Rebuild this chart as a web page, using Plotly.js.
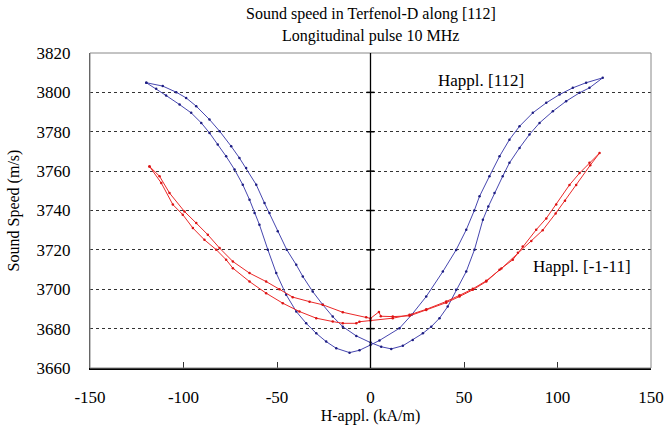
<!DOCTYPE html>
<html>
<head>
<meta charset="utf-8">
<script src="https://cdn.plot.ly/plotly-3.0.1.min.js"></script>
<style>html,body{margin:0;padding:0;background:#fff;}#chart{width:664px;height:426px;}</style>
</head>
<body>
<div id="chart"></div>
<script>
// Blue loop: H applied along [112]
const blueX = [-119.9,-114.6,-109.3,-102.1,-95.9,-90.5,-86.1,-81.7,-77.2,-72.7,-68.3,-64.7,-62.0,-59.4,-54.9,-50.4,-45.1,-39.7,-34.4,-29.0,-23.7,-18.3,-11.2,-5.9,0,4.8,15.5,22,29.8,38.7,45.8,51.2,55.5,58.3,63.6,69.0,74.3,79.7,86.8,94.0,101.1,108.2,115.3,124.2,
  117.1,111.8,104.6,97.5,90.4,85.0,79.7,74.3,70.7,66.3,63.0,60.1,55.6,51.2,45.8,41.3,36.9,32.5,28.0,22.6,17.3,11.1,5.7,0,-7.6,-14.8,-20.2,-25.5,-30.9,-36.2,-39.7,-44.8,-49.6,-54.0,-56.7,-61.1,-66.5,-70.1,-74.5,-80.7,-86.1,-93.2,-98.6,-103.9,-111.1,-119.9];
const blueY = [3804.9,3801.8,3798.4,3793.8,3789.6,3784.5,3779.4,3773.5,3767.5,3760.8,3753.1,3745.5,3738.7,3732.8,3720.1,3708.2,3697.2,3688.7,3682.7,3677.6,3673.4,3670.0,3667.8,3669.0,3671.7,3674.0,3680.2,3687.0,3696.3,3709.0,3720.0,3730.2,3740.0,3747.2,3757.4,3767.5,3776.0,3782.8,3789.6,3794.7,3798.9,3802.3,3804.9,3807.4,
  3802.3,3799.8,3795.5,3790.4,3784.5,3778.6,3771.8,3764.2,3757.4,3748.9,3742.0,3735.3,3720.1,3709.0,3699.7,3691.2,3685.3,3681.0,3677.6,3674.2,3671.3,3669.7,3670.8,3672.9,3676.3,3681.0,3686.1,3692.1,3698.8,3706.5,3712.4,3720.1,3729.4,3738.7,3743.8,3753.1,3761.6,3766.7,3772.6,3780.3,3786.2,3793.0,3797.2,3800.1,3803.2,3804.9];

// Red loop: H applied along [-1-11]
const redX = [-118.2,-112.8,-107.5,-99.5,-93.2,-87.0,-80.7,-73.6,-64.7,-55.8,-48.7,-41.6,-32.6,-25.5,-14.8,-2.3,0,4.5,5.5,11.9,20.9,29.8,40.5,47.6,54.7,61.9,69.0,76.1,81.4,88.6,94.0,99.3,106.4,111.8,117.1,122.5,
  117.5,110.0,104.0,99.0,92.1,86.0,78.8,70.0,61.9,54.7,47.6,40.5,29.8,20.9,11.9,0,-5.9,-7.6,-14.8,-20.2,-29.0,-38.0,-46.9,-55.8,-64.7,-73.6,-77.2,-82.5,-88.8,-95.0,-100.4,-105.7,-111.9,-118.2];
const redY = [3762.4,3757.4,3748.9,3739.5,3733.6,3727.7,3720.9,3714.1,3708.2,3703.9,3700.0,3696.0,3693.7,3692.1,3688.3,3685.8,3685.2,3688.5,3686.3,3686.1,3686.5,3689.5,3693.2,3696.3,3699.7,3703.9,3709.9,3715.0,3721.7,3730.2,3736.0,3743.0,3753.0,3759.0,3764.2,3769.2,
  3763.0,3753.0,3745.0,3738.5,3730.0,3724.5,3718.5,3710.5,3704.3,3700.2,3696.9,3693.8,3689.8,3687.0,3685.3,3684.1,3683.5,3682.7,3682.7,3683.6,3685.3,3688.7,3692.9,3698.0,3703.9,3710.7,3715.0,3720.1,3725.1,3731.1,3737.9,3743.0,3754.0,3762.4];

const xTicks = [-150,-100,-50,0,50,100,150];
const yTicks = [3660,3680,3700,3720,3740,3760,3780,3800,3820];
const titleLines = ['Sound speed in Terfenol-D along [112]', 'Longitudinal pulse 10 MHz'];
const xTitle = 'H-appl. (kA/m)';
const yTitle = 'Sound Speed (m/s)';
const labelBlue = 'Happl. [112]';
const labelRed = 'Happl. [-1-11]';

const serif = 'Liberation Serif, Times New Roman, serif';

const traces = [
  {x: blueX, y: blueY, mode: 'lines+markers', line: {color: 'rgb(70,70,175)', width: 1},
   marker: {color: 'rgb(30,30,130)', size: 2.5}, hoverinfo: 'skip'},
  {x: redX, y: redY, mode: 'lines+markers', line: {color: 'rgb(235,40,40)', width: 1},
   marker: {color: 'rgb(220,20,20)', size: 2.5}, hoverinfo: 'skip'}
];

const shapes = [
  {type: 'rect', xref: 'paper', yref: 'paper', x0: 0, x1: 1, y0: 0, y1: 1, line: {color: '#888', width: 1}},
  {type: 'line', xref: 'x', yref: 'paper', x0: 0, x1: 0, y0: 0, y1: 1, line: {color: '#000', width: 1.3}}
];
yTicks.slice(1, -1).forEach(v => {
  shapes.push({type: 'line', xref: 'x', yref: 'y', xsizemode: 'pixel', xanchor: 0, x0: -4, x1: 4, y0: v, y1: v,
    line: {color: '#000', width: 1.5}});
});

const layout = {
  width: 664, height: 426,
  margin: {l: 90, r: 13, t: 53, b: 58},
  paper_bgcolor: '#fff', plot_bgcolor: '#fff',
  showlegend: false,
  font: {family: serif, color: '#000', size: 16},
  xaxis: {
    range: [-150, 150], tickvals: xTicks, ticktext: xTicks.map(String),
    ticks: 'inside', ticklen: 6, tickcolor: '#333', tickwidth: 1,
    showline: true, linecolor: '#000', linewidth: 2, mirror: false,
    showgrid: false, zeroline: false,
    ticklabelstandoff: 13,
    tickfont: {family: serif, size: 17},
    title: {text: xTitle, font: {family: serif, size: 16}, standoff: 1}
  },
  yaxis: {
    range: [3660, 3820], tickvals: yTicks, ticktext: yTicks.map(String),
    ticks: '', showline: true, linecolor: '#444', linewidth: 1, mirror: false,
    showgrid: true, gridcolor: '#333', gridwidth: 1, griddash: 'dot',
    zeroline: false, ticklabelstandoff: 15,
    tickfont: {family: serif, size: 17},
    title: {text: yTitle, font: {family: serif, size: 16}, standoff: 12}
  },
  shapes: shapes,
  annotations: [
    {text: titleLines[0], x: 0.5, y: 14, xref: 'paper', yref: 'paper', showarrow: false, font: {family: serif, size: 16}, xanchor: 'center', yanchor: 'middle'},
    {text: titleLines[1], x: 0.5, y: 36, xref: 'paper', yref: 'paper', showarrow: false, font: {family: serif, size: 16}, xanchor: 'center', yanchor: 'middle'},
    {text: labelBlue, x: 59, y: 3806, xref: 'x', yref: 'y', showarrow: false, font: {family: serif, size: 17}, xanchor: 'center', yanchor: 'middle'},
    {text: labelRed, x: 113, y: 3711.5, xref: 'x', yref: 'y', showarrow: false, font: {family: serif, size: 17}, xanchor: 'center', yanchor: 'middle'}
  ]
};
// convert title pixel rows to paper coordinates of the plot area
const plotTop = layout.margin.t, plotH = layout.height - layout.margin.t - layout.margin.b;
layout.annotations[0].y = (plotTop + plotH - 14) / plotH;
layout.annotations[1].y = (plotTop + plotH - 36) / plotH;

Plotly.newPlot('chart', traces, layout, {displayModeBar: false, staticPlot: true});
</script>
</body>
</html>
